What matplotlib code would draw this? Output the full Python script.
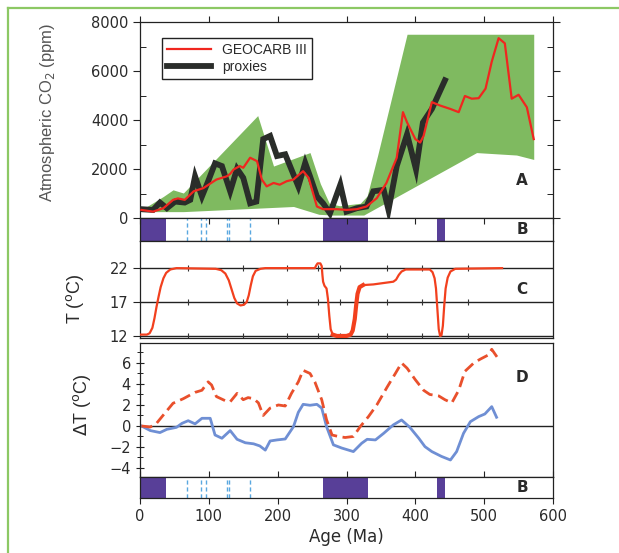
import numpy as np
import matplotlib
matplotlib.use("Agg")
import matplotlib.pyplot as plt
from matplotlib.lines import Line2D
from matplotlib.ticker import MultipleLocator

plt.rcParams["font.family"] = ["Liberation Sans", "DejaVu Sans"]

# ---- panel A: CO2 ----
env_age = [2, 34, 48, 63, 171, 194, 247, 262, 275, 290, 320, 330, 345, 388, 572]
env_hi = [330, 880, 1150, 1020, 4180, 2120, 2670, 1400, 600, 500, 600, 900, 2530, 7500, 7500]
env_lo_age = [2, 63, 170, 223, 260, 280, 325, 489, 547, 572]
env_lo = [260, 260, 400, 470, 150, 120, 120, 2670, 2570, 2390]

geo_age = [2, 19, 34, 48, 55, 65, 78, 92, 111, 126, 131, 136, 145, 150, 160, 170, 177, 184,
           194, 203, 213, 223, 228, 237, 245, 250, 257, 266, 286, 300, 315, 329, 344, 358,
           373, 382, 388, 400, 407, 412, 424, 436, 451, 463, 472, 482, 492, 502, 511, 521,
           530, 540, 550, 562, 572]
geo_co2 = [330, 260, 400, 740, 800, 740, 1090, 1220, 1570, 1700, 1800, 1980, 2120, 2050, 2460,
           2320, 1570, 1290, 1430, 1360, 1500, 1570, 1700, 1910, 1640, 1150, 470, 360, 360,
           330, 360, 470, 810, 1430, 2460, 4320, 3900, 3220, 3080, 3350, 4730, 4590, 4450,
           4320, 4980, 4870, 4890, 5280, 6380, 7340, 7130, 4870, 5030, 4520, 3220]

prx_age = [2, 19, 29, 39, 51, 65, 73, 80, 90, 99, 109, 119, 131, 141, 150, 160, 169, 179,
           189, 199, 211, 220, 230, 240, 247, 257, 266, 276, 291, 300, 315, 329, 339, 354,
           361, 373, 388, 401, 411, 424, 443]
prx_co2 = [360, 330, 630, 400, 670, 630, 740, 1700, 880, 1500, 2230, 2120, 1090, 2010, 1640,
           600, 670, 3220, 3350, 2530, 2600, 1980, 1290, 2250, 1700, 880, 600, 190, 1360,
           260, 400, 470, 1090, 1150, 330, 2120, 3420, 1980, 3900, 4450, 5620]

# ---- panel B: glacial intervals ----
glacial = [(0, 38), (266, 331), (432, 443)]
cool_events = [68, 88, 96, 126, 129, 160]

# ---- panel C: temperature ----
t_age = [0, 10, 14, 18, 21, 24, 27, 30, 34, 38, 44, 53,
         110, 118, 124, 129, 133, 137, 141, 146, 151, 155, 158, 161, 164, 168, 175, 182,
         254, 256, 258, 262, 264, 265, 266, 268, 271, 273, 275, 277, 280, 286,
         300, 306, 309, 312, 314, 316, 319, 324, 339, 368, 372, 376, 380, 386,
         421, 425, 428, 430, 432, 434, 436, 438, 440, 442, 444, 447, 451, 458, 526]
t_val = [12.2, 12.2, 12.4, 13.2, 14.6, 16.3, 17.8, 19.2, 20.5, 21.3, 21.8, 22.0,
         21.9, 21.7, 21.2, 20.2, 18.9, 17.6, 16.8, 16.5, 16.6, 17.0, 18.0, 19.5, 20.8, 21.6,
         21.9, 22.0,
         22.0, 22.4, 22.7, 22.7, 22.3, 21.0, 20.0, 19.4, 19.0, 17.5, 15.0, 13.0, 12.2, 12.0,
         12.0, 12.2, 12.8, 14.5, 16.5, 18.2, 19.2, 19.5, 19.6, 20.0, 20.3, 21.0, 21.5, 21.8,
         21.8, 21.4, 20.5, 19.0, 16.0, 13.0, 12.0, 12.1, 13.5, 16.5, 19.0, 20.6, 21.5, 21.9,
         22.0]
period_marks = [70, 149, 213, 258, 291, 359, 410, 477]

# ---- panel D: delta T ----
dr_age = [2, 15, 24, 34, 48, 63, 80, 90, 99, 104, 111, 124, 131, 141, 150, 157, 165, 172,
          179, 189, 201, 211, 220, 230, 237, 247, 254, 264, 271, 279, 288, 298, 310, 320,
          332, 344, 359, 371, 380, 388, 400, 412, 421, 434, 443, 453, 463, 472, 485, 494,
          506, 511, 521]
dr_val = [0, -0.1, 0.25, 1.05, 2.16, 2.6, 3.2, 3.4, 4.2, 3.9, 2.8, 2.4, 2.3, 3.1, 2.5, 2.7,
          2.6, 2.2, 1.0, 1.7, 2.0, 1.9, 3.1, 4.2, 5.3, 5.0, 4.2, 2.5, 0.6, -0.86, -1.0, -1.1,
          -1.0, -0.06, 0.9, 2.0, 3.7, 5.0, 6.0, 5.5, 4.4, 3.4, 3.0, 2.86, 2.5, 2.2, 3.4, 5.2,
          6.0, 6.35, 6.76, 7.3, 6.35]
db_age = [2, 15, 29, 39, 53, 61, 70, 80, 90, 102, 109, 119, 131, 141, 153, 165, 174, 182,
          189, 199, 211, 223, 230, 237, 247, 257, 264, 271, 281, 293, 310, 322, 330, 342,
          354, 368, 380, 392, 405, 414, 424, 438, 451, 460, 470, 480, 492, 501, 511, 518]
db_val = [0, -0.44, -0.63, -0.32, -0.13, 0.25, 0.5, 0.2, 0.73, 0.73, -0.86, -1.17, -0.44,
          -1.27, -1.6, -1.7, -1.9, -2.3, -1.43, -1.33, -1.24, -0.06, 1.3, 2.06, 1.97, 2.06,
          1.7, -0.06, -1.8, -2.1, -2.44, -1.65, -1.27, -1.33, -0.7, 0.1, 0.57, -0.13, -1.17,
          -1.97, -2.44, -2.9, -3.24, -2.44, -0.7, 0.41, 0.89, 1.14, 1.84, 0.83]

W, H = 619, 553
fig = plt.figure(figsize=(W / 100, H / 100), dpi=100)


def box(x0, y0, x1, y1):
    return [x0 / W, 1 - y1 / H, (x1 - x0) / W, (y1 - y0) / H]


PURPLE = "#583f98"
GREEN = "#7fba60"
TXT = "#2a2a2a"
WIDE = ["DejaVu Sans"]

axA = fig.add_axes(box(140, 22, 553, 218))
axB1 = fig.add_axes(box(140, 218, 553, 241))
axC = fig.add_axes(box(140, 241, 553, 338))
axD = fig.add_axes(box(140, 343, 553, 477))
axB2 = fig.add_axes(box(140, 477, 553, 498))

for ax in (axA, axB1, axC, axD, axB2):
    ax.set_xlim(0, 600)
    for s in ax.spines.values():
        s.set_linewidth(0.9)
        s.set_color("#222222")
    ax.tick_params(labelsize=10.5, colors="#222222", labelcolor=TXT)


def wide_ticks(ax):
    for lab in ax.get_xticklabels() + ax.get_yticklabels():
        lab.set_family(WIDE)


# panel A
all_age = sorted(set(env_age) | set(env_lo_age))
axA.fill_between(all_age, np.interp(all_age, env_lo_age, env_lo),
                 np.interp(all_age, env_age, env_hi), color=GREEN, lw=0)
axA.plot(prx_age, prx_co2, color="#2a2d2a", lw=4.2, solid_joinstyle="miter",
         label="proxies", zorder=3)
axA.plot(geo_age, geo_co2, color="#f0261f", lw=1.6, label="GEOCARB III", zorder=4)
axA.set_ylim(0, 8000)
axA.yaxis.set_major_locator(MultipleLocator(2000))
axA.yaxis.set_minor_locator(MultipleLocator(1000))
axA.xaxis.set_major_locator(MultipleLocator(100))
axA.tick_params(axis="y", which="major", direction="out", length=5, right=True)
axA.tick_params(axis="y", which="minor", direction="in", length=4, right=True)
axA.tick_params(axis="x", top=True, bottom=False, labelbottom=False,
                direction="out", length=4)
axA.set_ylabel("Atmospheric CO$_2$ (ppm)", fontsize=12, color="#555555")
axA.yaxis.set_label_coords(-0.2, 0.54)
axA.text(0.925, 0.19, "A", transform=axA.transAxes, fontsize=11, family=WIDE,
         fontweight="bold", ha="center", va="center", color=TXT)
handles, labels = axA.get_legend_handles_labels()
leg = axA.legend(handles[::-1], labels[::-1], loc="upper left",
                 bbox_to_anchor=(0.053, 0.918), borderaxespad=0, fancybox=False,
                 edgecolor="#222222", framealpha=1, fontsize=10, handlelength=3.2,
                 borderpad=0.35, labelspacing=0.2)
leg.get_frame().set_linewidth(1.0)
for t in leg.get_texts():
    t.set_color(TXT)
wide_ticks(axA)

# panels B
for ax in (axB1, axB2):
    for a0, a1 in glacial:
        ax.axvspan(a0, a1, color=PURPLE, lw=0)
    for a in cool_events:
        ax.axvline(a, color="#5aa8e0", lw=1.0, ls=(0, (3, 2)))
    ax.set_ylim(0, 1)
    ax.set_yticks([])
    ax.text(0.925, 0.5, "B", transform=ax.transAxes, fontsize=11, family=WIDE,
            fontweight="bold", ha="center", va="center", color=TXT)
axB1.set_xticks(range(0, 601, 100))
axB1.tick_params(axis="x", direction="in", length=4, labelbottom=False,
                 top=True, bottom=False)
axB2.set_xticks(range(0, 601, 100))
axB2.tick_params(axis="x", direction="out", length=4, pad=4)
axB2.set_xlabel("Age (Ma)", fontsize=12, color=TXT, labelpad=3, family=WIDE)
wide_ticks(axB2)

# panel C
for lev in (12, 17, 22):
    axC.axhline(lev, color="#222222", lw=1.0)
    axC.plot(period_marks, [lev] * len(period_marks), ls="none", marker="|",
             ms=5, mew=0.8, color="#333333")
axC.plot(t_age, t_val, color="#f2401e", lw=1.6, zorder=3)
seg = [(a, v) for a, v in zip(t_age, t_val) if 280 <= a <= 324]
axC.plot([s[0] for s in seg], [s[1] for s in seg], color="#f2401e", lw=3.0, zorder=3)
axC.set_ylim(11.7, 26.0)
axC.set_yticks([12, 17, 22])
axC.set_xticks([])
axC.tick_params(axis="y", direction="out", length=5)
axC.set_ylabel("T ($^{\\rm o}$C)", fontsize=13, color=TXT)
axC.yaxis.set_label_coords(-0.13, 0.4)
axC.text(0.925, 0.495, "C", transform=axC.transAxes, fontsize=11, family=WIDE,
         fontweight="bold", ha="center", va="center", color=TXT)
wide_ticks(axC)

# panel D
axD.axhline(0, color="#222222", lw=1.0)
axD.plot(db_age, db_val, color="#6f8fd4", lw=2.0)
axD.plot(dr_age, dr_val, color="#e9502c", lw=2.0, ls=(0, (4, 2)))
axD.set_ylim(-4.86, 7.9)
axD.yaxis.set_minor_locator(MultipleLocator(1))
axD.set_yticks([-4, -2, 0, 2, 4, 6])
axD.tick_params(axis="y", which="both", direction="inout", length=6)
axD.tick_params(axis="y", which="minor", length=5)
axD.set_xticks(range(0, 601, 100))
axD.tick_params(axis="x", direction="in", length=4, labelbottom=False)
axD.set_ylabel("$\\Delta$T ($^{\\rm o}$C)", fontsize=13, color=TXT)
axD.yaxis.set_label_coords(-0.115, 0.54)
axD.text(0.925, 0.74, "D", transform=axD.transAxes, fontsize=11, family=WIDE,
         fontweight="bold", ha="center", va="center", color=TXT)
wide_ticks(axD)

# green page frame
fig.add_artist(Line2D([8 / W, 1], [1 - 8 / H, 1 - 8 / H], color="#8cc864", lw=1.6,
                      transform=fig.transFigure))
fig.add_artist(Line2D([8 / W, 8 / W], [1 - 8 / H, 0], color="#8cc864", lw=1.6,
                      transform=fig.transFigure))

fig.savefig("out.png", dpi=100)
